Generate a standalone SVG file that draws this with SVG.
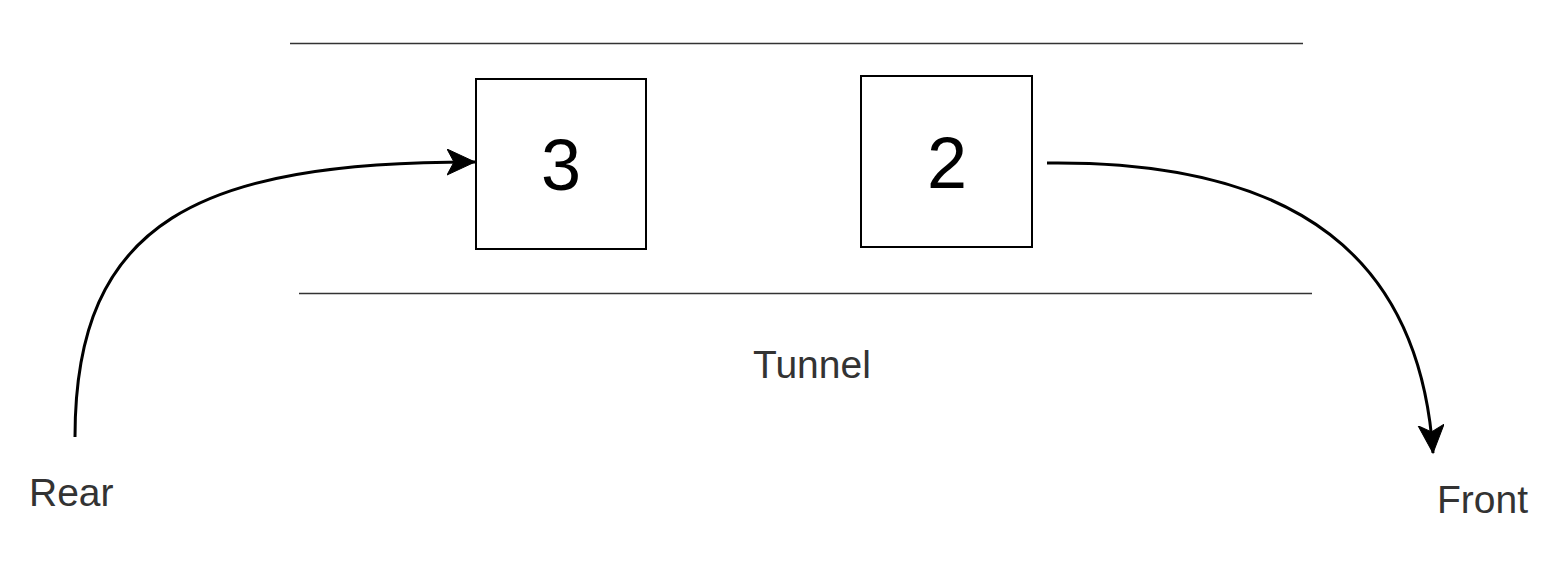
<svg xmlns="http://www.w3.org/2000/svg" width="1555" height="561" viewBox="0 0 1555 561">
<defs>
<style>
.box{fill:#fff;stroke:#000;stroke-width:2}
.wall{stroke:#333;stroke-width:1.5}
.edge{fill:none;stroke:#000;stroke-width:3}
.num{font-family:"Liberation Sans",Arial,sans-serif;font-size:72px;fill:#000;text-anchor:middle}
.lbl{font-family:"Liberation Sans",Arial,sans-serif;font-size:39px;fill:#333}
</style>
<marker id="ah" markerUnits="userSpaceOnUse" markerWidth="32" markerHeight="30" refX="28" refY="13" orient="auto" viewBox="0 0 32 30">
<path d="M0,0 L28,13 L0,26 L7,13 Z" fill="#000" stroke="#000" stroke-width="1"/>
</marker>
</defs>
<rect width="1555" height="561" fill="#fff"/>
<g id="tunnel">
<line class="wall" x1="290" y1="43.5" x2="1303" y2="43.5"/>
<line class="wall" x1="299" y1="293.5" x2="1312" y2="293.5"/>
<text class="lbl" x="753" y="378">Tunnel</text>
</g>
<g id="node3">
<rect class="box" x="476" y="79" width="170" height="170"/>
<text class="num" x="561" y="190">3</text>
</g>
<g id="node2">
<rect class="box" x="861" y="76" width="171" height="171"/>
<text class="num" x="947" y="188">2</text>
</g>
<g id="rear">
<text class="lbl" x="29" y="506">Rear</text>
</g>
<g id="front">
<text class="lbl" x="1437" y="513">Front</text>
</g>
<g id="connectors">
<path class="edge" d="M75,437 C75,220 200,162 475,162" marker-end="url(#ah)"/>
<path class="edge" d="M1047,163 C1300,160 1420,260 1433,453" marker-end="url(#ah)"/>
</g>
</svg>
